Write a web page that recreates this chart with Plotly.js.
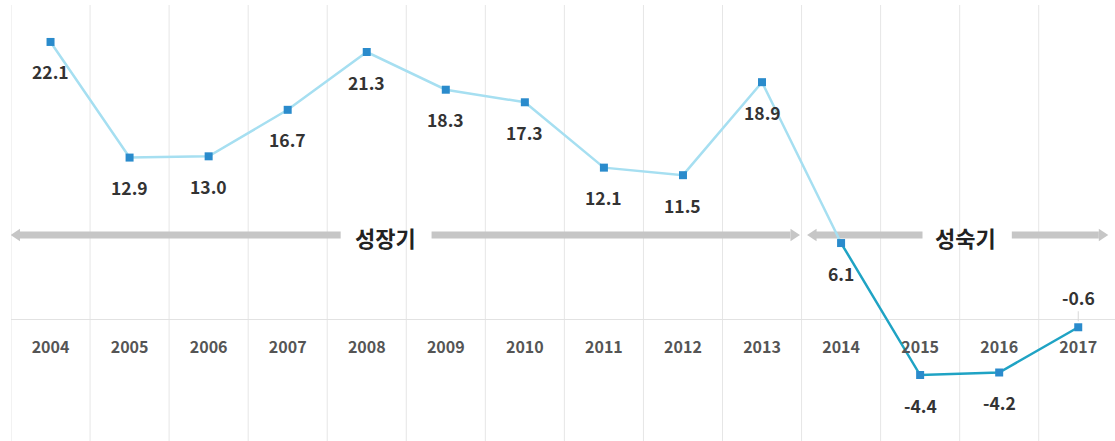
<!DOCTYPE html>
<html><head><meta charset="utf-8">
<script src="https://cdn.plot.ly/plotly-3.0.1.min.js"></script>
<style>html,body{margin:0;padding:0;background:#fff}#c{width:1115px;height:441px}</style>
</head><body><div id="c"></div>
<script>
const years = ["2004","2005","2006","2007","2008","2009","2010","2011","2012","2013","2014","2015","2016","2017"];
const growth = [22.1, 12.9, 13.0, 16.7, 21.3, 18.3, 17.3, 12.1, 11.5, 18.9, 6.1, -4.4, -4.2, -0.6];
const labels = ["22.1","12.9","13.0","16.7","21.3","18.3","17.3","12.1","11.5","18.9","6.1","-4.4","-4.2","-0.6"];
const phaseNames = ["성장기", "성숙기"];
const splitIdx = 10;

const FONT = "Noto Sans CJK KR, Roboto, sans-serif";
const xs = years.map((_, i) => i);

const traceGrow = {
  x: xs.slice(0, splitIdx + 1), y: growth.slice(0, splitIdx + 1),
  type: "scatter", mode: "lines",
  line: {color: "#a6dff1", width: 2.5}, hoverinfo: "skip"
};
const traceMature = {
  x: xs.slice(splitIdx), y: growth.slice(splitIdx),
  type: "scatter", mode: "lines",
  line: {color: "#1fa3c4", width: 2.5}, hoverinfo: "skip"
};
const traceMarkers = {
  x: xs, y: growth, type: "scatter", mode: "markers",
  marker: {symbol: "square", size: 8, color: "#2a8bcc"}, hoverinfo: "skip"
};

const annotations = growth.map((v, i) => {
  const last = i === growth.length - 1;
  if (last) {
    return {x: i, y: v, xref: "x", yref: "y", text: labels[i], showarrow: true,
      ax: 0, ay: -30, arrowhead: 0, arrowwidth: 1, arrowcolor: "#d8d8d8", standoff: 6,
      font: {family: FONT, size: 17.5, color: "#333", weight: "bold"}};
  }
  return {x: i, y: v, xref: "x", yref: "y", text: labels[i], showarrow: false,
    yshift: -30, font: {family: FONT, size: 17.5, color: "#333", weight: "bold"}};
});

const arrowY = 6.74;
const gray = "#c6c6c6";
annotations.push({x: 4.24, y: 6.6, xref: "x", yref: "y", text: phaseNames[0], showarrow: false,
  font: {family: FONT, size: 22, color: "#222", weight: "bold"}});
annotations.push({x: 11.57, y: 6.6, xref: "x", yref: "y", text: phaseNames[1], showarrow: false,
  font: {family: FONT, size: 22, color: "#222", weight: "bold"}});

function seg(x0, x1) {
  return {type: "line", xref: "x", yref: "y", x0: x0, x1: x1, y0: arrowY, y1: arrowY,
    line: {color: gray, width: 7}, layer: "below"};
}
function head(xTip, dir) {
  const L = 0.12, H = 0.5;
  const xb = xTip - dir * L;
  return {type: "path", xref: "x", yref: "y",
    path: `M ${xTip} ${arrowY} L ${xb} ${arrowY + H} L ${xb} ${arrowY - H} Z`,
    fillcolor: gray, line: {width: 0}, layer: "below"};
}
const shapes = [
  seg(-0.40, 3.67), seg(4.82, 9.36), head(-0.506, -1), head(9.48, 1),
  seg(9.68, 11.03), seg(12.16, 13.26), head(9.57, -1), head(13.38, 1)
];

const layout = {
  width: 1115, height: 441,
  margin: {l: 11, r: 0, t: 5, b: 0},
  paper_bgcolor: "#fff", plot_bgcolor: "#fff",
  showlegend: false,
  xaxis: {
    type: "linear", range: [-0.5, 13.465],
    tickvals: xs, ticktext: years,
    showgrid: false, zeroline: false, showline: false,
    anchor: "free", position: 0.24, ticks: "",
    tickfont: {family: FONT, size: 16, color: "#555", weight: "bold"},
    fixedrange: true
  },
  yaxis: {
    range: [-9.65, 25.04], showgrid: false, showticklabels: false,
    zeroline: true, zerolinecolor: "#e2e2e2", zerolinewidth: 1, fixedrange: true
  },
  shapes: shapes.concat(xs.map(i => ({type: "line", xref: "x", yref: "paper",
    x0: i - 0.5, x1: i - 0.5, y0: 0, y1: 1, line: {color: "#e6e6e6", width: 1}, layer: "below"}))),
  annotations: annotations
};

Plotly.newPlot("c", [traceGrow, traceMature, traceMarkers], layout, {staticPlot: true, displayModeBar: false});
</script></body></html>
